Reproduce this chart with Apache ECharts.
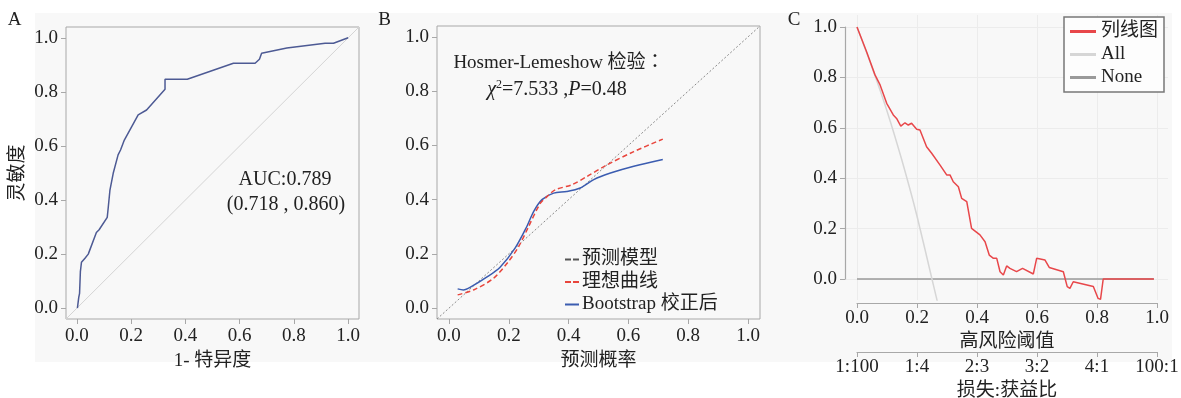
<!DOCTYPE html>
<html><head><meta charset="utf-8">
<script src="https://cdn.jsdelivr.net/npm/echarts@6/dist/echarts.min.js"></script>
<style>html,body{margin:0;padding:0;background:#fff}#c{width:1181px;height:398px}</style>
</head><body><div id="c"></div>
<script>
// ---- Panel A: ROC ----
const rocFpr = [0.002,0.007,0.010,0.013,0.017,0.030,0.042,0.072,0.082,0.112,0.116,0.122,0.134,0.152,0.161,0.175,0.226,0.257,0.325,0.325,0.407,0.577,0.657,0.673,0.681,0.774,0.915,0.946,1.0];
const rocTpr = [0.0,0.04,0.055,0.135,0.17,0.185,0.20,0.28,0.29,0.336,0.375,0.437,0.499,0.567,0.585,0.622,0.715,0.733,0.81,0.847,0.847,0.906,0.906,0.921,0.943,0.962,0.98,0.98,1.0];
const rocRef = [-0.04, 1.04];
// ---- Panel B: calibration ----
const calBootX = [0.029,0.048,0.076,0.126,0.171,0.221,0.26,0.283,0.311,0.35,0.394,0.439,0.484,0.54,0.618,0.715];
const calBootY = [0.071,0.067,0.08,0.114,0.151,0.221,0.30,0.356,0.40,0.424,0.43,0.443,0.474,0.498,0.523,0.548];
const calIdealX = [0.029,0.082,0.149,0.199,0.233,0.266,0.305,0.327,0.355,0.411,0.461,0.528,0.618,0.715];
const calIdealY = [0.049,0.067,0.11,0.172,0.227,0.30,0.386,0.41,0.436,0.455,0.485,0.528,0.577,0.623];
const calRef = [-0.04, 1.04];
// ---- Panel C: decision curve ----
const dcaT  = [0,0.032,0.06,0.077,0.099,0.121,0.132,0.146,0.16,0.171,0.182,0.199,0.21,0.232,0.249,0.277,0.299,0.31,0.321,0.338,0.349,0.366,0.382,0.41,0.427,0.441,0.455,0.466,0.477,0.488,0.499,0.51,0.532,0.552,0.588,0.599,0.627,0.641,0.688,0.701,0.71,0.721,0.788,0.804,0.812,0.821,0.99];
const dcaNB = [1.0,0.902,0.81,0.77,0.697,0.651,0.637,0.607,0.62,0.611,0.618,0.594,0.591,0.525,0.499,0.452,0.413,0.413,0.386,0.366,0.32,0.307,0.201,0.175,0.148,0.095,0.082,0.082,0.029,0.016,0.052,0.042,0.029,0.042,0.02,0.082,0.075,0.046,0.029,-0.03,-0.037,-0.011,-0.03,-0.077,-0.081,0.0,0.0];
const allT  = [0,0.05,0.1,0.15,0.2,0.25,0.268];
const allNB = [1.0,0.84,0.667,0.47,0.25,0.0,-0.09];
const noneT = [0,0.99];
const noneNB = [0,0];
const tickVals = [0,0.2,0.4,0.6,0.8,1.0];
const ratioLabels = ['1:100','1:4','2:3','3:2','4:1','100:1'];

const FONT = "'Liberation Serif','Noto Sans CJK SC',serif";
const FONT_TC = "'Liberation Serif','Noto Sans CJK TC',serif";
const AX = '#a8a8a8';
const TXT = '#222';
const pairs = (xs, ys) => xs.map((x, i) => [x, ys[i]]);

function boxAxis(gridIndex, extra) {
  return Object.assign({
    type: 'value', gridIndex, min: -0.04, max: 1.04,
    axisLine: { show: false, onZero: false },
    axisTick: { show: true, length: 5, customValues: tickVals, lineStyle: { color: AX } },
    axisLabel: { customValues: tickVals, margin: 8, fontSize: 19, fontFamily: FONT, color: TXT, formatter: v => v.toFixed(1) },
    splitLine: { show: false },
    nameTextStyle: { fontSize: 19, fontFamily: FONT, color: TXT }
  }, extra || {});
}

const option = {
  animation: false,
  backgroundColor: '#ffffff',
  graphic: [
    { type: 'rect', z: -10, silent: true, shape: { x: 35, y: 13, width: 1137, height: 349 }, style: { fill: '#f8f8f8' } },
    { type: 'text', style: { text: 'A', x: 14.5, y: 20, textAlign: 'center', textVerticalAlign: 'middle', fontSize: 19, fontFamily: FONT, fill: TXT } },
    { type: 'text', style: { text: 'B', x: 384.5, y: 20, textAlign: 'center', textVerticalAlign: 'middle', fontSize: 19, fontFamily: FONT, fill: TXT } },
    { type: 'text', style: { text: 'C', x: 794, y: 20, textAlign: 'center', textVerticalAlign: 'middle', fontSize: 19, fontFamily: FONT, fill: TXT } },
    { type: 'text', style: { text: 'AUC:0.789', x: 285, y: 180, textAlign: 'center', textVerticalAlign: 'middle', fontSize: 20, fontFamily: FONT, fill: TXT } },
    { type: 'text', style: { text: '(0.718 , 0.860)', x: 286, y: 205, textAlign: 'center', textVerticalAlign: 'middle', fontSize: 20, fontFamily: FONT, fill: TXT } },
    { type: 'text', style: { text: 'Hosmer-Lemeshow 检验：', x: 559, y: 63, textAlign: 'center', textVerticalAlign: 'middle', fontSize: 19, fontFamily: FONT_TC, fill: TXT } },
    { type: 'text', style: {
        text: '{i|χ}{s|2}{n|=7.533 ,}{i|P}{n|=0.48}', x: 557, y: 90, textAlign: 'center', textVerticalAlign: 'middle',
        fontSize: 20, fontFamily: FONT, fill: TXT,
        rich: {
          i: { fontSize: 20, fontFamily: FONT, fontStyle: 'italic', fill: TXT },
          s: { fontSize: 12, fontFamily: FONT, fill: TXT, verticalAlign: 'top', padding: [0, 0, 10, 0] },
          n: { fontSize: 20, fontFamily: FONT, fill: TXT }
        } } }
  ],
  grid: [
    { left: 66, top: 27, width: 293, height: 292, show: true, borderColor: AX, borderWidth: 1, backgroundColor: 'transparent', outerBoundsMode: 'none', containLabel: false },
    { left: 437, top: 26, width: 323, height: 293, show: true, borderColor: AX, borderWidth: 1, backgroundColor: 'transparent', outerBoundsMode: 'none', containLabel: false },
    { left: 845, top: 15, width: 323, height: 285, outerBoundsMode: 'none', containLabel: false },
    { left: 857, top: 27, width: 300, height: 252, outerBoundsMode: 'none', containLabel: false }
  ],
  xAxis: [
    boxAxis(0, { name: '1- 特异度', nameLocation: 'middle', nameGap: 33 }),
    boxAxis(1, { name: '预测概率', nameLocation: 'middle', nameGap: 33 }),
    { type: 'value', gridIndex: 2, min: -0.04, max: 1.037,
      axisLine: { show: false, onZero: false }, axisLabel: { show: false },
      axisTick: { show: false, customValues: tickVals },
      splitLine: { show: true, lineStyle: { color: '#ececec', width: 1 } } },
    { type: 'value', gridIndex: 3, min: 0, max: 1, interval: 0.2, offset: 24, position: 'bottom',
      axisLine: { show: true, onZero: false, lineStyle: { color: AX, width: 1.2 } },
      axisTick: { show: true, length: 5, lineStyle: { color: AX } },
      axisLabel: { margin: 6, fontSize: 19, fontFamily: FONT, color: TXT, formatter: v => v.toFixed(1) },
      splitLine: { show: false },
      name: '高风险阈值', nameLocation: 'middle', nameGap: 26,
      nameTextStyle: { fontSize: 19, fontFamily: FONT, color: TXT } },
    { type: 'value', gridIndex: 3, min: 0, max: 1, interval: 0.2, offset: 73, position: 'bottom',
      axisLine: { show: true, onZero: false, lineStyle: { color: AX, width: 1.2 } },
      axisTick: { show: true, length: 5, lineStyle: { color: AX } },
      axisLabel: { margin: 6, fontSize: 19, fontFamily: FONT, color: TXT,
        formatter: v => ratioLabels[Math.round(v / 0.2)] },
      splitLine: { show: false },
      name: '损失:获益比', nameLocation: 'middle', nameGap: 21,
      nameTextStyle: { fontSize: 19, fontFamily: FONT, color: TXT } }
  ],
  yAxis: [
    boxAxis(0, { name: '灵敏度', nameLocation: 'middle', nameRotate: 90, nameGap: 38 }),
    boxAxis(1),
    { type: 'value', gridIndex: 2, min: -0.0833, max: 1.0476,
      axisLine: { show: false, onZero: false }, axisLabel: { show: false },
      axisTick: { show: false, customValues: tickVals },
      splitLine: { show: true, lineStyle: { color: '#ececec', width: 1 } } },
    { type: 'value', gridIndex: 3, min: 0, max: 1, interval: 0.2, offset: 12, position: 'left',
      axisLine: { show: true, onZero: false, lineStyle: { color: AX, width: 1.2 } },
      axisTick: { show: true, length: 5, lineStyle: { color: AX } },
      axisLabel: { margin: 8, fontSize: 19, fontFamily: FONT, color: TXT, formatter: v => v.toFixed(1) },
      splitLine: { show: false } }
  ],
  legend: [
    { data: [
        { name: '预测模型', icon: 'path://M0,0h6v2h-6z M8,0h6v2h-6z', itemStyle: { color: '#555' } },
        { name: '理想曲线', icon: 'path://M0,0h6v2h-6z M8,0h6v2h-6z', itemStyle: { color: '#e8453c' } },
        { name: 'Bootstrap 校正后', icon: 'rect', itemStyle: { color: '#3b5cb0' } }
      ],
      orient: 'vertical', left: 565, top: 250,
      itemWidth: 14, itemHeight: 2, itemGap: 3.5, padding: 0, selectedMode: false,
      textStyle: { fontSize: 19, fontFamily: FONT, color: TXT, padding: [0, 0, 0, -2] } },
    { data: ['列线图', 'All', 'None'], orient: 'vertical', left: 1064, top: 17,
      icon: 'rect', itemWidth: 26, itemHeight: 3, itemGap: 4, padding: [5, 6, 5, 6],
      borderColor: '#777', borderWidth: 1.5, backgroundColor: '#fdfdfd', selectedMode: false,
      textStyle: { fontSize: 19, fontFamily: FONT, color: TXT } }
  ],
  series: [
    { name: 'refA', type: 'line', xAxisIndex: 0, yAxisIndex: 0, data: pairs(rocRef, rocRef), showSymbol: false, symbol: 'none',
      lineStyle: { color: '#d4d4d4', width: 1 }, z: 2 },
    { name: 'ROC', type: 'line', xAxisIndex: 0, yAxisIndex: 0, data: pairs(rocFpr, rocTpr), showSymbol: false, symbol: 'none',
      lineStyle: { color: '#4d5a94', width: 1.5 }, z: 3 },
    { name: '预测模型', type: 'line', xAxisIndex: 1, yAxisIndex: 1, data: pairs(calRef, calRef), showSymbol: false, symbol: 'none',
      itemStyle: { color: '#555' }, lineStyle: { color: '#8a8a8a', width: 1, type: [2, 2] }, z: 2 },
    { name: '理想曲线', type: 'line', xAxisIndex: 1, yAxisIndex: 1, data: pairs(calIdealX, calIdealY), showSymbol: false, symbol: 'none', smooth: 0.3,
      itemStyle: { color: '#e8453c' }, lineStyle: { color: '#e8453c', width: 1.5, type: [5, 3] }, z: 4 },
    { name: 'Bootstrap 校正后', type: 'line', xAxisIndex: 1, yAxisIndex: 1, data: pairs(calBootX, calBootY), showSymbol: false, symbol: 'none', smooth: 0.3,
      itemStyle: { color: '#3b5cb0' }, lineStyle: { color: '#3b5cb0', width: 1.5 }, z: 3 },
    { name: 'None', type: 'line', xAxisIndex: 2, yAxisIndex: 2, data: pairs(noneT, noneNB), showSymbol: false, symbol: 'none',
      itemStyle: { color: '#9a9a9a' }, lineStyle: { color: '#9a9a9a', width: 1.5 }, z: 2 },
    { name: 'All', type: 'line', xAxisIndex: 2, yAxisIndex: 2, data: pairs(allT, allNB), showSymbol: false, symbol: 'none', smooth: 0.2,
      itemStyle: { color: '#d6d6d6' }, lineStyle: { color: '#d6d6d6', width: 1.5 }, z: 2 },
    { name: '列线图', type: 'line', xAxisIndex: 2, yAxisIndex: 2, data: pairs(dcaT, dcaNB), showSymbol: false, symbol: 'none',
      itemStyle: { color: '#e8474a' }, lineStyle: { color: '#e8474a', width: 1.5 }, z: 4 }
  ]
};
const chart = echarts.init(document.getElementById('c'), null, { renderer: 'canvas' });
chart.setOption(option);
</script></body></html>
